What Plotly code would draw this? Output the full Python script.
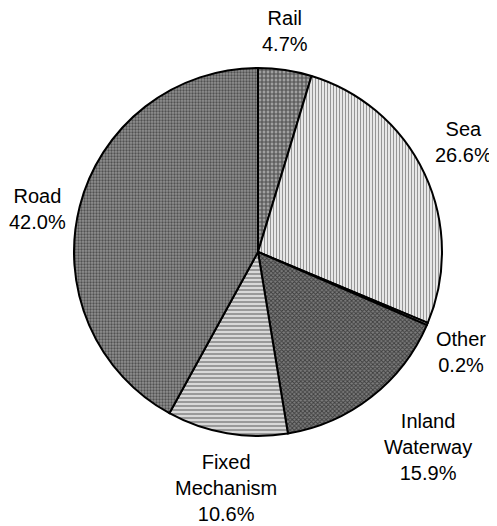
import plotly.graph_objects as go

# ---- data ----
categories = ["Rail", "Sea", "Other", "Inland Waterway", "Fixed Mechanism", "Road"]
shares = [4.7, 26.6, 0.2, 15.9, 10.6, 42.0]
label_names = ["Rail", "Sea", "Other", "Inland<br>Waterway", "Fixed<br>Mechanism", "Road"]

# ---- styling ----
OFF = 8                      # default page body margin
W, H = 497 - OFF, 526 - OFF  # figure size so it fits the window
cx, cy, r = 258 - OFF, 252 - OFF, 184  # pie centre / radius in figure pixels

fills = ["#a0a0a0", "#e8e8e8", "#c8c8c8", "#7c7c7c", "#d8d8d8", "#909090"]
shapes = ["+", "|", ".", "x", "-", "."]
fg = ["#000000", "#444444", "#000000", "#000000", "#222222", "#111111"]
sizes = [4, 3, 3, 3, 4, 3]
solid = [0.5, 0.35, 0.4, 0.5, 0.35, 0.45]

# label anchor positions (window pixels)
label_pos = [(285, 31), (463, 142), (461, 352), (428, 447), (226, 488), (37, 209)]

fig = go.Figure(go.Pie(
    labels=categories,
    values=shares,
    sort=False,
    direction="clockwise",
    rotation=0,
    textinfo="none",
    hoverinfo="label+percent",
    marker=dict(
        colors=fills,
        line=dict(color="black", width=2),
        pattern=dict(shape=shapes, fgcolor=fg, size=sizes, solidity=solid, fillmode="overlay"),
    ),
    domain=dict(x=[(cx - r) / W, (cx + r) / W], y=[1 - (cy + r) / H, 1 - (cy - r) / H]),
    showlegend=False,
))

for name, val, (px, py) in zip(label_names, shares, label_pos):
    fig.add_annotation(
        x=(px - OFF) / W, y=1 - (py - OFF) / H, xref="paper", yref="paper",
        text=f"{name}<br>{val:.1f}%", showarrow=False,
        xanchor="center", yanchor="middle", align="center",
        font=dict(family="Liberation Sans, Arial, sans-serif", size=20, color="black"),
    )

fig.update_layout(
    width=W, height=H,
    margin=dict(l=0, r=0, t=0, b=0),
    paper_bgcolor="white", plot_bgcolor="white",
)

fig.write_html("out.html")
